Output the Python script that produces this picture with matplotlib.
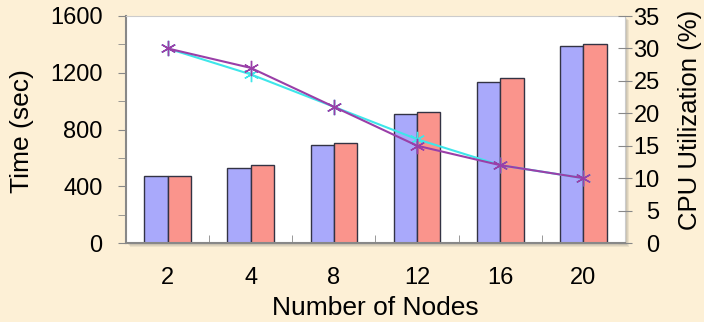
import numpy as np
import matplotlib.pyplot as plt
from matplotlib.patches import Rectangle

plt.rcParams['font.family'] = ['Liberation Sans', 'DejaVu Sans']

nodes = ['2', '4', '8', '12', '16', '20']
time_a = [470, 530, 690, 910, 1135, 1390]
time_b = [470, 550, 705, 920, 1160, 1405]
cpu_a = [30, 26, 21, 16, 12, 10]
cpu_b = [30, 27, 21, 15, 12, 10]

bg = '#fdf0d6'
W, H = 704, 322
fig = plt.figure(figsize=(7.04, 3.22), dpi=100, facecolor=bg)
left, bottom, width, height = 126 / W, 1 - 243 / H, 499 / W, 227 / H
ax = fig.add_axes([left, bottom, width, height])
ax.set_facecolor('white')
ax.set_zorder(2)

# soft shadow behind the plot area
for i, a in enumerate([0.10, 0.10, 0.10]):
    off = (i + 2) / W
    fig.patches.append(Rectangle((left + off, bottom - (i + 2) / H), width, height,
                                 transform=fig.transFigure, color='#555555',
                                 alpha=a, zorder=0, linewidth=0))

x = np.arange(len(nodes))
w = 0.28
ax.bar(x - w / 2, time_a, w, color='#a9a9fb', edgecolor='#333344', linewidth=1, zorder=2)
ax.bar(x + w / 2, time_b, w, color='#fa948c', edgecolor='#333344', linewidth=1, zorder=2)
ax.set_xlim(-0.5, len(nodes) - 0.5)
ax.set_ylim(0, 1600)
ax.set_yticks(range(0, 1601, 400))
ax.set_yticks(range(0, 1601, 200), minor=True)
ax.set_xticks(x)
ax.set_xticklabels(nodes)
ax.set_xticks(x[:-1] + 0.5, minor=True)
ax.tick_params(axis='x', which='major', length=0, labelsize=17, pad=17)
ax.tick_params(axis='x', which='minor', length=6, direction='in', color='#888888')
ax.tick_params(axis='y', which='both', length=6, color='#888888', labelsize=17, pad=11)
for s in ['left', 'bottom']:
    ax.spines[s].set_color('#888888')
    ax.spines[s].set_linewidth(1.5)
for s in ['top', 'right']:
    ax.spines[s].set_color('#cccccc')

ax2 = ax.twinx()
ax2.set_zorder(3)
ax2.plot(x, cpu_a, color='#3ee6ea', linewidth=1.5, marker=(6, 2, 0), markersize=11, zorder=3)
ax2.plot(x, cpu_b, color='#9a3fa8', linewidth=1.5, marker=(6, 2, 0), markersize=11, zorder=4)
ax2.set_ylim(0, 35)
ax2.set_yticks(range(0, 36, 5))
ax2.tick_params(axis='y', length=10, direction='inout', color='#888888', labelsize=17, pad=20)
for lab in ax2.get_yticklabels():
    lab.set_horizontalalignment('right')
for s in ax2.spines.values():
    s.set_visible(False)

fig.text(22 / W, 1 - 131 / H, 'Time (sec)', rotation=90, ha='center', va='center', fontsize=19)
fig.text(690 / W, 1 - 120 / H, 'CPU Utilization (%)', rotation=90, ha='center', va='center', fontsize=18.5)
fig.text(375 / W, 1 - 315 / H, 'Number of Nodes', ha='center', va='baseline', fontsize=19)

fig.savefig('out.png', dpi=100, facecolor=bg)
